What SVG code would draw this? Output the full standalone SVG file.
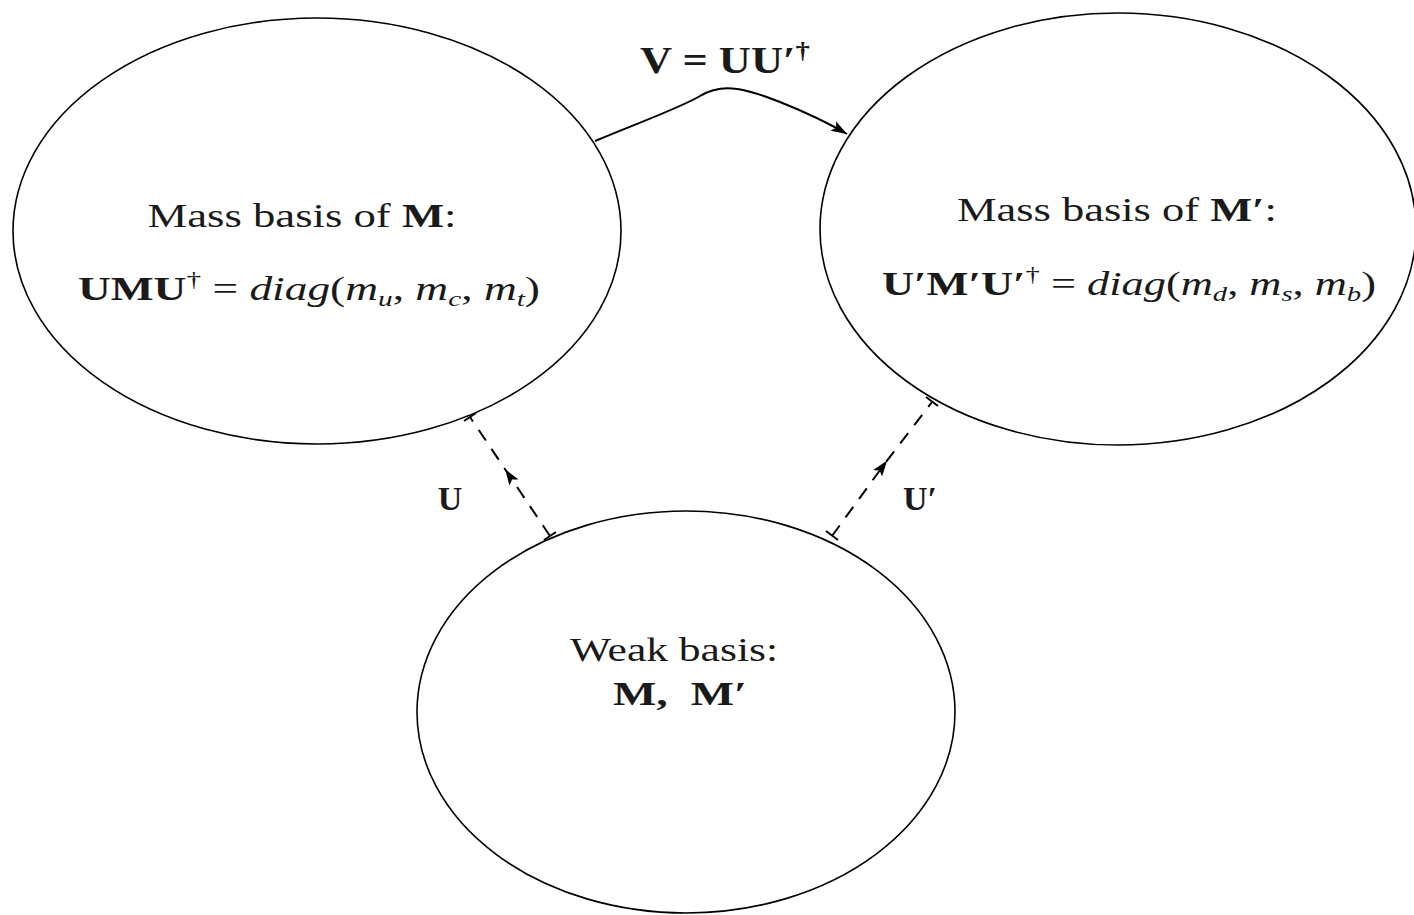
<svg xmlns="http://www.w3.org/2000/svg" width="1414" height="915" viewBox="0 0 1414 915">
<style>
.node{fill:#fff;stroke:#000;stroke-width:1.6}
.t{font-family:"Liberation Serif","DejaVu Serif",serif;fill:#1a1a1a;font-size:34px}
.b{font-weight:bold}
.i{font-style:italic}
.c{stroke:#000;stroke-width:2;fill:none}
.d{stroke:#000;stroke-width:2;fill:none;stroke-dasharray:13 10}
</style>
<defs>
<marker id="ah" markerWidth="18" markerHeight="14" refX="16" refY="7" orient="auto" markerUnits="userSpaceOnUse">
<path d="M0,1.5 L16,7 L0,12.5 L3.5,7 Z" fill="#000"/>
</marker>
<marker id="am" markerWidth="18" markerHeight="14" refX="9" refY="7" orient="auto" markerUnits="userSpaceOnUse">
<path d="M0,1.5 L16,7 L0,12.5 L3.5,7 Z" fill="#000"/>
</marker>
</defs>
<rect width="1414" height="915" fill="#fff"/>
<g id="mass-M">
<ellipse class="node" cx="317" cy="231" rx="304" ry="213"/>
<text class="t" x="302" y="227" text-anchor="middle" textLength="309" lengthAdjust="spacingAndGlyphs">Mass basis of <tspan class="b">M</tspan>:</text>
<text class="t" x="78" y="300" textLength="462" lengthAdjust="spacingAndGlyphs"><tspan class="b">UMU</tspan><tspan font-size="22" dy="-14">†</tspan><tspan dy="14"> = </tspan><tspan class="i">diag</tspan>(<tspan class="i">m</tspan><tspan class="i" font-size="22" dy="6">u</tspan><tspan dy="-6">, </tspan><tspan class="i">m</tspan><tspan class="i" font-size="22" dy="6">c</tspan><tspan dy="-6">, </tspan><tspan class="i">m</tspan><tspan class="i" font-size="22" dy="6">t</tspan><tspan dy="-6">)</tspan></text>
</g>
<g id="mass-Mprime">
<ellipse class="node" cx="1118" cy="229" rx="298" ry="216"/>
<text class="t" x="1117" y="221" text-anchor="middle" textLength="320" lengthAdjust="spacingAndGlyphs">Mass basis of <tspan class="b">M′</tspan>:</text>
<text class="t" x="882" y="295" textLength="494" lengthAdjust="spacingAndGlyphs"><tspan class="b">U′M′U′</tspan><tspan font-size="22" dy="-14">†</tspan><tspan dy="14"> = </tspan><tspan class="i">diag</tspan>(<tspan class="i">m</tspan><tspan class="i" font-size="22" dy="6">d</tspan><tspan dy="-6">, </tspan><tspan class="i">m</tspan><tspan class="i" font-size="22" dy="6">s</tspan><tspan dy="-6">, </tspan><tspan class="i">m</tspan><tspan class="i" font-size="22" dy="6">b</tspan><tspan dy="-6">)</tspan></text>
</g>
<g id="weak">
<ellipse class="node" cx="686" cy="712" rx="269" ry="201"/>
<text class="t" x="674" y="661" text-anchor="middle" textLength="208" lengthAdjust="spacingAndGlyphs">Weak basis:</text>
<text class="t b" x="613" y="705" textLength="134" lengthAdjust="spacingAndGlyphs" xml:space="preserve">M,  M′</text>
</g>
<g id="connectors">
<path class="c" d="M595,141 C640,122 680,108 700,96 C720,84 740,86 780,102 C810,114 830,124 847,134" marker-end="url(#ah)"/>
<text class="t b" x="640" y="73" textLength="170" lengthAdjust="spacingAndGlyphs" style="font-size:37px">V = UU′<tspan style="font-size:24px" dy="-15">†</tspan></text>
<path class="d" d="M550,536 L509,475 L470,417" marker-mid="url(#am)"/>
<path class="c" d="M464,421 L476,413 M544,540 L556,532"/>
<text class="t b" x="450" y="510" text-anchor="middle">U</text>
<path class="d" d="M832,536 L883,466 L932,402" marker-mid="url(#am)"/>
<path class="c" d="M926,397 L938,406 M826,531 L838,540"/>
<text class="t b" x="920" y="510" text-anchor="middle">U′</text>
</g>
</svg>
